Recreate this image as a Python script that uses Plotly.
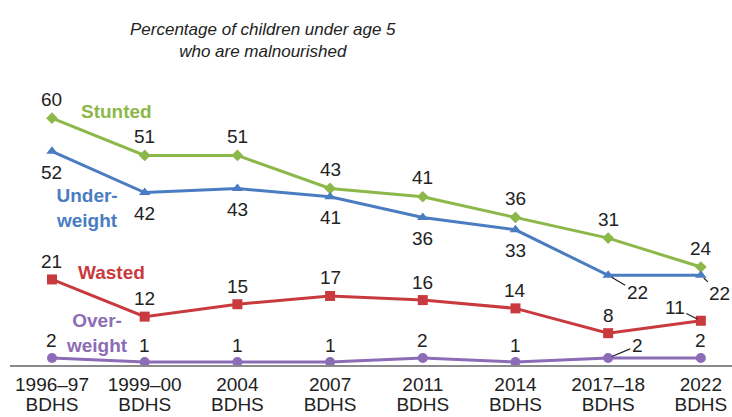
import plotly.graph_objects as go

survey_years = ["1996–97", "1999–00", "2004", "2007", "2011", "2014", "2017–18", "2022"]
survey_name = ["BDHS"] * len(survey_years)
stunted = [60, 51, 51, 43, 41, 36, 31, 24]
underweight = [52, 42, 43, 41, 36, 33, 22, 22]
wasted = [21, 12, 15, 17, 16, 14, 8, 11]
overweight = [2, 1, 1, 1, 2, 1, 2, 2]

C_STUNT = "#8CB84A"
C_UNDER = "#4A7CC2"
C_WASTE = "#C93A3E"
C_OVER = "#8C6CB6"
FONT = "Liberation Sans, Arial, sans-serif"
TXT = "#222222"

xs = list(range(len(survey_years)))
XR = [-0.453, 7.336]

fig = go.Figure()
series = [
    (stunted, C_STUNT, "diamond", 9),
    (underweight, C_UNDER, "triangle-up", 10),
    (wasted, C_WASTE, "square", 10),
    (overweight, C_OVER, "circle", 10),
]
for vals, col, sym, sz in series:
    fig.add_trace(go.Scatter(
        x=xs, y=vals, mode="lines+markers",
        line=dict(color=col, width=3),
        marker=dict(symbol=sym, size=sz, color=col),
        showlegend=False, hoverinfo="skip", cliponaxis=False,
    ))
# invisible trace to carry the second tick-label row
fig.add_trace(go.Scatter(x=xs, y=overweight, xaxis="x2", mode="markers",
                         marker=dict(opacity=0), showlegend=False, hoverinfo="skip"))

ann = []
def lab(i, v, yshift=0, ax=None, ay=None):
    d = dict(x=xs[i], y=v, xref="x", yref="y", text=str(v),
             font=dict(family=FONT, size=19, color=TXT))
    if ax is None:
        d.update(showarrow=False, yshift=yshift)
    else:
        d.update(showarrow=True, ax=ax, ay=ay, arrowhead=0, arrowwidth=1.2,
                 arrowcolor=TXT, standoff=4)
    ann.append(d)

for i, v in enumerate(stunted):
    lab(i, v, yshift=19)
for i, v in enumerate(underweight):
    if i == 6:
        lab(i, v, ax=29, ay=17)
    elif i == 7:
        lab(i, v, ax=19, ay=18)
    else:
        lab(i, v, yshift=-21)
for i, v in enumerate(wasted):
    if i == 7:
        lab(i, v, ax=-26, ay=-13)
    else:
        lab(i, v, yshift=18)
for i, v in enumerate(overweight):
    if i == 6:
        lab(i, v, ax=29, ay=-12)
    else:
        lab(i, v, yshift=17)

names = [
    ("Stunted", 0.70, 61.5, C_STUNT),
    ("Under-<br>weight", 0.38, 38.2, C_UNDER),
    ("Wasted", 0.64, 22.6, C_WASTE),
    ("Over-<br>weight", 0.49, 8.0, C_OVER),
]
for t, x, y, c in names:
    ann.append(dict(x=x, y=y, xref="x", yref="y", text="<b>" + t + "</b>",
                    showarrow=False, font=dict(family=FONT, size=19, color=c)))

ann.append(dict(xref="paper", yref="paper", x=(263 - 10) / 722, y=1 + (100 - 40) / 265,
                xanchor="center", yanchor="middle",
                text="<i>Percentage of children under age 5<br>who are malnourished</i>",
                showarrow=False, font=dict(family=FONT, size=17, color=TXT)))

tickfont = dict(family=FONT, size=19, color=TXT)
fig.update_layout(
    width=732, height=417,
    margin=dict(l=10, r=0, t=100, b=52, autoexpand=False),
    paper_bgcolor="white", plot_bgcolor="white",
    annotations=ann,
    xaxis=dict(
        range=XR, tickvals=xs, ticktext=survey_years, automargin=False,
        showgrid=False, zeroline=False, showline=True, linecolor="#8a8a8a",
        linewidth=2, ticks="", tickfont=tickfont, ticklabelstandoff=1,
    ),
    xaxis2=dict(
        range=XR, tickvals=xs, ticktext=survey_name, automargin=False,
        overlaying="x", side="bottom", anchor="y",
        showgrid=False, zeroline=False, showline=False,
        ticks="", tickfont=tickfont, ticklabelstandoff=26,
    ),
    yaxis=dict(range=[0.3, 64.4], visible=False, showgrid=False, zeroline=False,
               automargin=False),
)

fig.write_html("out.html")
